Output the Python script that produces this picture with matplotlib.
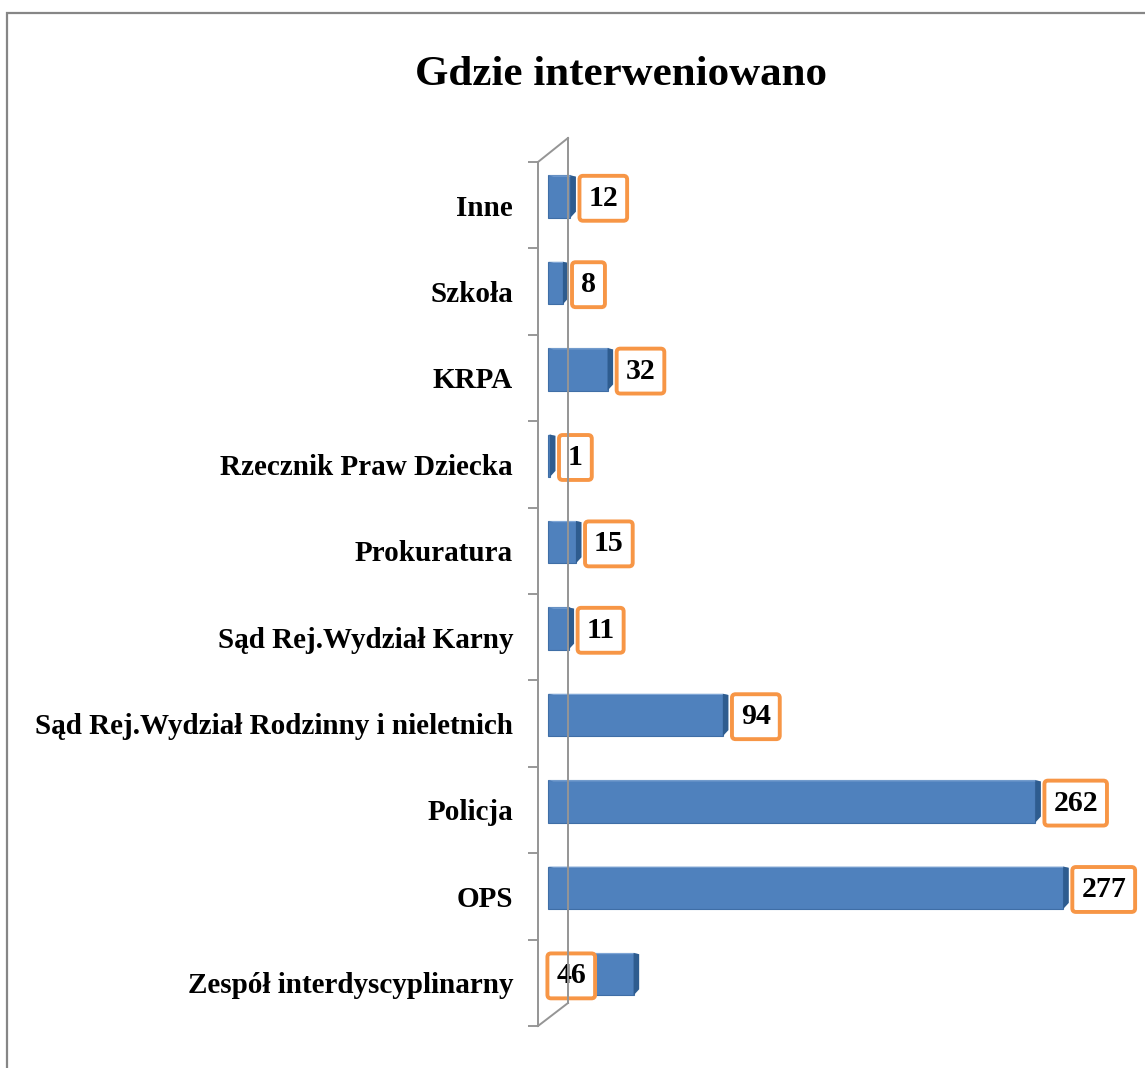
import matplotlib.pyplot as plt
from matplotlib.patches import Polygon, Rectangle
from matplotlib.lines import Line2D

categories = [
    "Zespół interdyscyplinarny",
    "OPS",
    "Policja",
    "Sąd Rej.Wydział Rodzinny i nieletnich",
    "Sąd Rej.Wydział Karny",
    "Prokuratura",
    "Rzecznik Praw Dziecka",
    "KRPA",
    "Szkoła",
    "Inne",
]
values = [46, 277, 262, 94, 11, 15, 1, 32, 8, 12]
title = "Gdzie interweniowano"

plt.rcParams['font.family'] = ['Liberation Serif', 'DejaVu Serif']

W, H = 1145, 1068
fig = plt.figure(figsize=(W / 100, H / 100), dpi=100)

# chart-area border (only left and top visible)
fig.patches.append(Rectangle((7 / W, -0.5), 2.0, 1.5 - 13 / H, transform=fig.transFigure,
                             fill=False, edgecolor='#868686', linewidth=1.6))

ax_left, ax_right = 538, 1106
ax_top, ax_bot = 162, 1026
ax = fig.add_axes([ax_left / W, 1 - ax_bot / H, (ax_right - ax_left) / W, (ax_bot - ax_top) / H])

xmin, xmax = -5.4, 300
ax.set_xlim(xmin, xmax)
ax.set_ylim(-0.5, len(categories) - 0.5)

front = '#4F81BD'
side = '#2E5C8F'
top = '#7FA6D6'
h = 0.49
lift = 0.1
dx, dy = 3.0, 0.07

for i, v in enumerate(values):
    y = i + lift
    ax.barh(y, v, height=h, color=front, edgecolor='#3F6EA6', linewidth=0.8, zorder=3)
    # top face
    ax.add_patch(Polygon([(0, y + h / 2), (v, y + h / 2), (v + dx, y + h / 2 - dy * 0.2),
                          (dx, y + h / 2 - dy * 0.2)], closed=True, color=top, zorder=4, lw=0))
    # right face
    ax.add_patch(Polygon([(v, y + h / 2), (v + dx, y + h / 2 - dy * 0.2),
                          (v + dx, y - h / 2 + dy), (v, y - h / 2)], closed=True,
                         color=side, zorder=4, lw=0))
    lx = v if v != 46 else 0
    ax.annotate(str(v), xy=(lx, y - 0.02), xytext=(13 if v != 46 else 6, 0), textcoords='offset points',
                ha='left', va='center', fontsize=21.5, fontweight='bold', zorder=6,
                bbox=dict(boxstyle='round,pad=0.3,rounding_size=0.12', facecolor='white',
                          edgecolor='#F79646', linewidth=2.8))

# boundaries as major ticks, category names as minor ticks
ax.set_yticks([i - 0.5 for i in range(len(categories) + 1)])
ax.set_yticklabels([])
ax.set_yticks(range(len(categories)), minor=True)
ax.set_yticklabels(categories, minor=True, fontsize=21, fontweight='bold')
ax.tick_params(axis='y', which='major', length=7, width=1.2, color='#868686', direction='out')
ax.tick_params(axis='y', which='minor', length=0, pad=18)
ax.set_xticks([])
for s in ['top', 'right', 'bottom']:
    ax.spines[s].set_visible(False)
ax.spines['left'].set_color('#959595')
ax.spines['left'].set_linewidth(1.4)

# back wall of the 3d frame
gray = '#959595'
def fx(px):
    return px / W
def fy(py):
    return 1 - py / H
wall = [
    [(538, ax_top), (568, 138)],
    [(568, 138), (568, 1003)],
    [(538, ax_bot), (568, 1003)],
]
for seg in wall:
    (x0, y0), (x1, y1) = seg
    fig.add_artist(Line2D([fx(x0), fx(x1)], [fy(y0), fy(y1)], transform=fig.transFigure,
                          color=gray, linewidth=1.4, zorder=1))

fig.text(621 / W, 1 - 75 / H, title, ha='center', va='center', fontsize=31, fontweight='bold')

fig.savefig('out.png', dpi=100)
